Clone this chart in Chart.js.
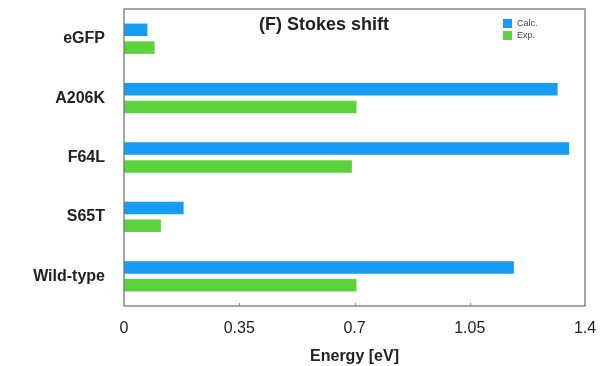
<html><head>
<meta charset="UTF-8">
<script src="https://cdn.jsdelivr.net/npm/chart.js"></script>
<style>
  html, body { margin: 0; padding: 0; background: #fff; }
  #wrap { width: 608px; height: 366px; }
</style>
</head>
<body>
<div id="wrap"><canvas id="chart"></canvas></div>
<script>
  // data
  const mutants = ['eGFP', 'A206K', 'F64L', 'S65T', 'Wild-type'];
  const calcValues = [0.071, 1.317, 1.352, 0.181, 1.184];
  const expValues = [0.093, 0.706, 0.692, 0.112, 0.706];
  const xTicks = [0, 0.35, 0.7, 1.05, 1.4];
  const xTickLabels = ['0', '0.35', '0.7', '1.05', '1.4'];

  const blue = '#169cf3';
  const green = '#5cd23c';
  const fontFamily = '"Liberation Sans", Arial, sans-serif';

  // frame, small inner ticks, title and legend drawn inside the plot box
  const insidePlot = {
    id: 'insidePlot',
    afterDraw(chart) {
      const ctx = chart.ctx;
      const a = chart.chartArea;
      const xs = chart.scales.x;
      ctx.save();
      ctx.strokeStyle = '#777';
      ctx.lineWidth = 1.3;
      ctx.strokeRect(a.left, a.top, a.right - a.left, a.bottom - a.top);

      ctx.lineWidth = 1;
      ctx.strokeStyle = '#999';
      xTicks.forEach(v => {
        const px = Math.round(xs.getPixelForValue(v)) + 0.5;
        ctx.beginPath();
        ctx.moveTo(px, a.bottom);
        ctx.lineTo(px, a.bottom - 3);
        ctx.stroke();
      });

      ctx.fillStyle = '#222';
      ctx.font = 'bold 18px ' + fontFamily;
      ctx.textAlign = 'center';
      ctx.textBaseline = 'middle';
      ctx.fillText('(F) Stokes shift', 324, 25);

      ctx.textAlign = 'left';
      ctx.font = '9px ' + fontFamily;
      chart.data.datasets.forEach((ds, i) => {
        const y = 19 + i * 12;
        ctx.fillStyle = ds.backgroundColor;
        ctx.fillRect(503, y, 9, 9);
        ctx.fillStyle = '#444';
        ctx.fillText(ds.label, 517, y + 4.5);
      });
      ctx.restore();
    }
  };

  new Chart(document.getElementById('chart'), {
    type: 'bar',
    data: {
      labels: mutants,
      datasets: [
        { label: 'Calc.', data: calcValues, backgroundColor: blue,
          categoryPercentage: 0.6, barPercentage: 0.7 },
        { label: 'Exp.', data: expValues, backgroundColor: green,
          categoryPercentage: 0.6, barPercentage: 0.7 }
      ]
    },
    options: {
      indexAxis: 'y',
      responsive: true,
      maintainAspectRatio: false,
      animation: false,
      layout: { padding: { left: 0, top: 9, right: 23, bottom: 0 } },
      plugins: {
        legend: { display: false },
        tooltip: { enabled: false }
      },
      scales: {
        x: {
          min: 0,
          max: 1.4,
          grid: { display: false },
          border: { display: false },
          afterBuildTicks: s => { s.ticks = xTicks.map(v => ({ value: v })); },
          afterFit: s => { s.height = 60; },
          ticks: {
            padding: 5,
            color: '#222',
            font: { family: fontFamily, size: 16 },
            callback: (v, i) => xTickLabels[i]
          },
          title: {
            display: true,
            text: 'Energy [eV]',
            color: '#222',
            padding: { top: 0, bottom: 0 },
            font: { family: fontFamily, size: 16, weight: 'bold' }
          }
        },
        y: {
          grid: { display: false },
          border: { display: false },
          afterFit: s => { s.width = 124; s.paddingTop = 0; s.paddingBottom = 0; },
          ticks: {
            padding: 11,
            color: '#222',
            font: { family: fontFamily, size: 16, weight: 'bold' }
          }
        }
      }
    },
    plugins: [insidePlot]
  });
</script>
</body></html>
